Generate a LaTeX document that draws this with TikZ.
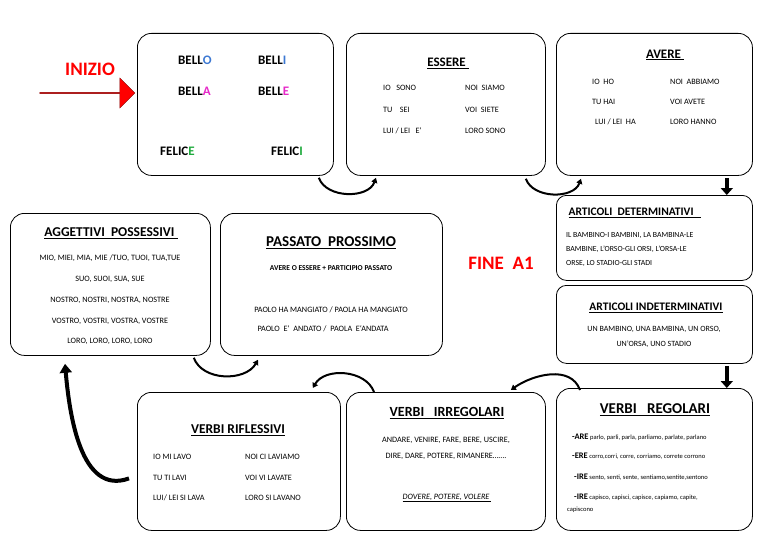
\documentclass[tikz,border=0pt]{standalone}
\usepackage{fontspec}
\setmainfont{Carlito}
\usetikzlibrary{shapes,arrows.meta,calc}
\tikzstyle{box}   = [rectangle, draw, rounded corners=14pt, thick, anchor=north west, inner sep=0pt]
\tikzstyle{title} = [font=\fontsize{13}{15}\selectfont\bfseries]
\tikzstyle{small} = [font=\fontsize{8.2}{10}\selectfont, inner sep=0pt]
\tikzstyle{big}   = [font=\fontsize{13}{15}\selectfont\bfseries, inner sep=0pt]
\tikzstyle{flow}  = [draw, line width=2pt, -{Triangle[length=5pt,width=6pt]}]
\tikzstyle{down}  = [draw, line width=4.5pt, -{Triangle[length=7pt,width=12pt]}]
\definecolor{lblue}{RGB}{60,120,210}
\definecolor{lmag}{RGB}{230,40,200}
\definecolor{lgreen}{RGB}{30,170,60}
\begin{document}
\begin{tikzpicture}[x=1pt, y=-1pt]
            \useasboundingbox (0,0) rectangle (768,543);
            % boxes
            \node[box, minimum width=196pt, minimum height=142pt] (inizio) at (137,33) {};
            \node[box, minimum width=199pt, minimum height=142pt] (essere) at (346,33) {};
            \node[box, minimum width=196pt, minimum height=142pt] (avere) at (556,33) {};
            \node[box, minimum width=196pt, minimum height=85pt, rounded corners=10pt] (det) at (556,195) {};
            \node[box, minimum width=196pt, minimum height=78pt, rounded corners=10pt] (indet) at (556,285) {};
            \node[box, minimum width=196pt, minimum height=142pt] (regolari) at (556,388) {};
            \node[box, minimum width=199pt, minimum height=138pt] (irregolari) at (346,392) {};
            \node[box, minimum width=203pt, minimum height=138pt] (riflessivi) at (137,392) {};
            \node[box, minimum width=200pt, minimum height=142pt] (possessivi) at (10,213) {};
            \node[box, minimum width=222pt, minimum height=142pt] (passato) at (220,213) {};

            % inizio
            \node[font=\fontsize{19}{21}\selectfont\bfseries, text=red] (start) at (90,69) {INIZIO};
            \node[single arrow, draw=red!50!black, fill=red, minimum height=95pt, minimum width=30pt,
                  single arrow head extend=5pt, inner sep=0pt] (startarrow) at (87,93) {};
            \node[big, anchor=west] (bello) at (178,60) {BELL\textcolor{lblue}{O}};
            \node[big, anchor=west] (belli) at (258,60) {BELL\textcolor{lblue}{I}};
            \node[big, anchor=west] (bella) at (178,91) {BELL\textcolor{lmag}{A}};
            \node[big, anchor=west] (belle) at (258,91) {BELL\textcolor{lmag}{E}};
            \node[big, anchor=west] (felice) at (160,151) {FELIC\textcolor{lgreen}{E}};
            \node[big, anchor=west] (felici) at (271,151) {FELIC\textcolor{lgreen}{I}};

            % essere
            \node[title] (essereT) at (448,63) {\underline{ESSERE\ }};
            \node[small, anchor=west] (e1) at (383,88) {IO\ \ \ SONO};
            \node[small, anchor=west] (e2) at (465,88) {NOI\ \ SIAMO};
            \node[small, anchor=west] (e3) at (383,110) {TU\ \ \ \ SEI};
            \node[small, anchor=west] (e4) at (465,110) {VOI\ \ SIETE};
            \node[small, anchor=west] (e5) at (383,131) {LUI / LEI\ \ \ E`};
            \node[small, anchor=west] (e6) at (465,131) {LORO SONO};

            % avere
            \node[title] (avereT) at (665,55) {\underline{AVERE\ }};
            \node[small, anchor=west] (a1) at (592,82) {IO\ \ HO};
            \node[small, anchor=west] (a2) at (670,82) {NOI\ \ ABBIAMO};
            \node[small, anchor=west] (a3) at (592,102) {TU HAI};
            \node[small, anchor=west] (a4) at (670,102) {VOI AVETE};
            \node[small, anchor=west] (a5) at (595,122) {LUI / LEI\ \ HA};
            \node[small, anchor=west] (a6) at (670,122) {LORO HANNO};

            % articoli
            \node[title, font=\fontsize{11.5}{13}\selectfont\bfseries, anchor=west] (detT) at (565,213) {\underline{ARTICOLI\ \ DETERMINATIVI\ \ \ }};
            \node[small, anchor=north west, align=left, font=\fontsize{7.8}{14}\selectfont] (detX) at (566,232)
                {IL BAMBINO-I BAMBINI, LA BAMBINA-LE\\BAMBINE, L'ORSO-GLI ORSI, L'ORSA-LE\\ORSE, LO STADIO-GLI STADI};
            \node[title, font=\fontsize{11.5}{13}\selectfont\bfseries] (indetT) at (656,308) {\underline{ARTICOLI INDETERMINATIVI}};
            \node[small, align=center, font=\fontsize{8}{14.5}\selectfont] (indetX) at (654,337)
                {UN BAMBINO, UNA BAMBINA, UN ORSO,\\UN'ORSA, UNO STADIO};

            % verbi regolari
            \node[font=\fontsize{15}{17}\selectfont\bfseries] (regT) at (655,410) {\underline{VERBI\ \ \ REGOLARI}};
            \node[small, anchor=west, font=\fontsize{6.5}{8}\selectfont] (r1) at (572,437) {\textbf{\fontsize{8.5}{10}\selectfont -ARE} parlo, parli, parla, parliamo, parlate, parlano};
            \node[small, anchor=west, font=\fontsize{6.5}{8}\selectfont] (r2) at (572,456) {\textbf{\fontsize{8.5}{10}\selectfont -ERE} corro,corri, corre, corriamo, correte corrono};
            \node[small, anchor=west, font=\fontsize{6.5}{8}\selectfont] (r3) at (574,477) {\textbf{\fontsize{8.5}{10}\selectfont -IRE} sento, senti, sente, sentiamo,sentite,sentono};
            \node[small, anchor=west, font=\fontsize{6.5}{8}\selectfont] (r4) at (574,497) {\textbf{\fontsize{8.5}{10}\selectfont -IRE} capisco, capisci, capisce, capiamo, capite,};
            \node[small, anchor=west, font=\fontsize{6.5}{8}\selectfont] (r5) at (567,510) {capiscono};

            % verbi irregolari
            \node[font=\fontsize{14}{16}\selectfont\bfseries] (irrT) at (447,413) {\underline{VERBI\ \ \ IRREGOLARI}};
            \node[small, align=center, font=\fontsize{8.2}{16}\selectfont] (irrX) at (446,448)
                {ANDARE, VENIRE, FARE, BERE, USCIRE,\\DIRE, DARE, POTERE, RIMANERE…….};
            \node[small, font=\fontsize{8.2}{10}\selectfont\itshape] (irrY) at (447,498) {\underline{DOVERE, POTERE, VOLERE\ }};

            % verbi riflessivi
            \node[title, font=\fontsize{13.5}{15}\selectfont\bfseries] (riflT) at (238,430) {\underline{VERBI RIFLESSIVI}};
            \node[small, anchor=west] (f1) at (153,457) {IO MI LAVO};
            \node[small, anchor=west] (f2) at (245,457) {NOI CI LAVIAMO};
            \node[small, anchor=west] (f3) at (153,478) {TU TI LAVI};
            \node[small, anchor=west] (f4) at (245,478) {VOI VI LAVATE};
            \node[small, anchor=west] (f5) at (153,498) {LUI/ LEI SI LAVA};
            \node[small, anchor=west] (f6) at (245,498) {LORO SI LAVANO};

            % aggettivi possessivi
            \node[title, font=\fontsize{13.5}{15}\selectfont\bfseries] (possT) at (111,233) {\underline{AGGETTIVI\ \ POSSESSIVI\ }};
            \node[small, align=center, font=\fontsize{8.2}{20.7}\selectfont] (possX) at (110,300)
                {MIO, MIEI, MIA, MIE /TUO, TUOI, TUA,TUE\\SUO, SUOI, SUA, SUE\\NOSTRO, NOSTRI, NOSTRA, NOSTRE\\VOSTRO, VOSTRI, VOSTRA, VOSTRE\\LORO, LORO, LORO, LORO};

            % passato prossimo
            \node[font=\fontsize{15}{17}\selectfont\bfseries] (passT) at (331,243) {\underline{PASSATO\ \ PROSSIMO}};
            \node[small, font=\fontsize{7.5}{9}\selectfont\bfseries] (passX) at (331,268) {AVERE O ESSERE + PARTICIPIO PASSATO};
            \node[small] (passY) at (331,310) {PAOLO HA MANGIATO / PAOLA HA MANGIATO};
            \node[small] (passZ) at (323,329) {PAOLO\ \ E`\ \ ANDATO /\ \ PAOLA\ \ E`ANDATA};

            % fine
            \node[font=\fontsize{19}{21}\selectfont\bfseries, text=red] (fine) at (501,263) {FINE\ \ A1};

            % connectors
            \path[flow] ($(inizio.south east)+(-15,2)$) to[out=-70, in=-110] ($(essere.south west)+(30,2)$);
            \path[flow] ($(essere.south east)+(-20,3)$) to[out=-70, in=-110] ($(avere.south west)+(25,3)$);
            \path[down] ($(avere.south east)+(-26,2)$) -- ($(det.north east)+(-26,0)$);
            \path[down] ($(indet.south east)+(-26,2)$) -- ($(regolari.north east)+(-26,0)$);
            \path[flow] ($(regolari.north west)+(24,2)$) to[out=110, in=35] ($(irregolari.north east)+(-35,-2)$);
            \path[flow] ($(irregolari.north west)+(28,0)$) to[out=110, in=60] ($(riflessivi.north east)+(-28,-4)$);
            \path[flow, line width=4pt, -{Triangle[length=9pt,width=12pt]}] ($(riflessivi.west)+(-8,17)$) to[out=200, in=-85] ($(possessivi.south west)+(55,8)$);
            \path[flow] ($(possessivi.south east)+(-17,2)$) to[out=-70, in=-120] ($(passato.south west)+(38,4)$);
        \end{tikzpicture}
\end{document}
